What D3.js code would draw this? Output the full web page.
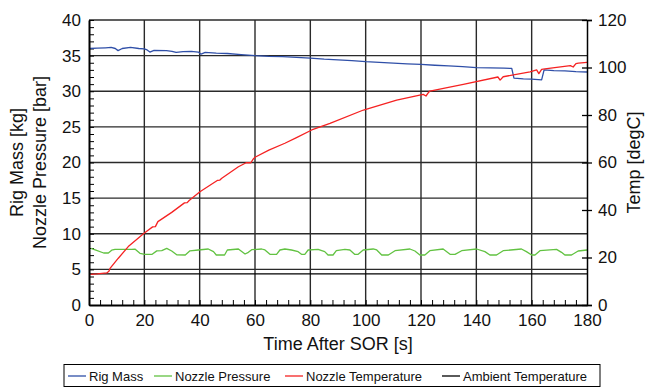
<!DOCTYPE html>
<html>
<head>
<meta charset="utf-8">
<script src="https://cdn.jsdelivr.net/npm/d3@7"></script>
<style>
  body { margin: 0; background: #fff; }
  svg text { font-family: "Liberation Sans", Arial, Helvetica, sans-serif; fill: #111; }
</style>
</head>
<body>
<div id="chart"></div>
<script>
// Values
const massTime = [0, 3, 6, 8, 9.5, 10.5, 12, 15, 18, 20, 21, 22, 23.5, 28, 30, 31.5, 34, 37, 39.5, 40.5, 42, 46, 50, 55, 60, 65, 70, 75, 80, 85, 90, 95, 100, 105, 110, 115, 120, 125, 130, 135, 140, 145, 150, 152.8, 153.6, 157, 160, 163.6, 164.5, 168, 172, 176, 180];
const massValue = [36.0, 36.05, 36.1, 36.15, 36.0, 35.7, 36.0, 36.15, 36.0, 35.95, 35.8, 35.5, 35.75, 35.7, 35.6, 35.45, 35.55, 35.6, 35.5, 35.2, 35.45, 35.35, 35.3, 35.15, 35.0, 34.9, 34.85, 34.75, 34.65, 34.5, 34.4, 34.3, 34.15, 34.05, 33.95, 33.85, 33.78, 33.65, 33.55, 33.45, 33.32, 33.28, 33.25, 33.2, 31.85, 31.75, 31.7, 31.6, 33.0, 32.9, 32.85, 32.75, 32.7];

const pressureTime = [0.7, 2.5, 5.3, 7, 8.2, 9.4, 15.4, 16.6, 18.4, 20.2, 22.7, 24.5, 26.3, 28.1, 29.9, 31.7, 34.8, 36.5, 39.5, 43.1, 45, 46, 49, 50, 54, 56.4, 57.6, 58.8, 62.4, 63.6, 65.4, 67.8, 69, 70.8, 73.2, 75.6, 76.8, 78, 79.2, 82.8, 85.2, 86.4, 88.2, 89.4, 92.5, 94.3, 96, 97.3, 99.1, 102.7, 104, 105.8, 108.2, 110.6, 116, 117.8, 119.6, 121.4, 123.2, 128, 130.5, 132.3, 134.7, 140.1, 143.1, 144.9, 147.3, 149.7, 156.3, 158.1, 160, 161.2, 163, 169, 170.8, 172, 174.4, 176.8, 180];
const pressureValue = [7.95, 7.7, 7.3, 7.3, 7.7, 7.8, 7.8, 7.85, 7.25, 7.1, 7.1, 7.6, 7.62, 7.95, 7.58, 7.05, 7.02, 7.6, 7.72, 7.86, 7.49, 7.02, 7.02, 7.72, 7.86, 7.16, 7.39, 7.76, 7.86, 7.72, 7.11, 7.11, 7.72, 7.86, 7.72, 7.49, 7.11, 7.11, 7.72, 7.81, 7.49, 7.02, 7.02, 7.62, 7.81, 7.72, 7.11, 7.11, 7.72, 7.86, 7.72, 7.02, 7.02, 7.62, 7.86, 7.58, 7.02, 7.02, 7.62, 7.86, 7.11, 7.11, 7.62, 7.86, 7.49, 7.02, 7.02, 7.62, 7.86, 7.49, 7.02, 7.02, 7.62, 7.81, 7.39, 7.02, 7.02, 7.58, 7.72];

const nozzleTempTime = [0.5, 3, 6.4, 7.2, 7.6, 10.6, 14.2, 19.9, 23, 24, 24.9, 29.9, 34.5, 35.5, 36.2, 40.1, 46.5, 47.3, 48, 54, 56.8, 58.5, 59.4, 60, 65, 70.8, 75, 80.5, 87.1, 99.2, 111.2, 120.8, 121.8, 122.8, 123.2, 135.3, 147.8, 148.6, 149.7, 159.4, 161.8, 162.6, 163.6, 164.8, 174, 175, 176, 176.9, 180];
const nozzleTempValue = [12.9, 13.1, 13.5, 14.2, 15.4, 19.7, 24.6, 30.2, 32.9, 33.0, 35.1, 39.0, 43.0, 43.1, 44.0, 47.7, 52.5, 52.6, 53.4, 58.2, 59.9, 59.9, 61.5, 62.2, 65.2, 68.1, 70.5, 73.7, 76.5, 82.1, 86.3, 88.7, 88.0, 89.6, 90.1, 92.9, 96.0, 94.7, 96.1, 98.2, 99.0, 97.4, 99.2, 99.4, 100.8, 100.2, 101.6, 101.8, 102.2];

const ambientTime = [0, 180];
const ambientValue = [13.1, 13.1];

const xTicks = [0, 20, 40, 60, 80, 100, 120, 140, 160, 180];
const leftTicks = [0, 5, 10, 15, 20, 25, 30, 35, 40];
const rightTicks = [0, 20, 40, 60, 80, 100, 120];

const legendNames = ['Rig Mass', 'Nozzle Pressure', 'Nozzle Temperature', 'Ambient Temperature'];
const colors = ['#2f4fa8', '#62c242', '#f52222', '#000000'];

const width = 652, height = 388;
const plotLeft = 89, plotRight = 587, plotTop = 20, plotBottom = 305;

const svg = d3.select('#chart').append('svg')
    .attr('width', width)
    .attr('height', height);

const x = d3.scaleLinear().domain([0, 180]).range([plotLeft, plotRight]);
const yL = d3.scaleLinear().domain([0, 40]).range([plotBottom, plotTop]);
const yR = d3.scaleLinear().domain([0, 120]).range([plotBottom, plotTop]);

// Grid
svg.append('g')
    .selectAll('line')
    .data(xTicks.slice(1, -1))
    .enter().append('line')
    .attr('x1', d => x(d)).attr('x2', d => x(d))
    .attr('y1', plotTop).attr('y2', plotBottom)
    .attr('stroke', '#2a2a2a').attr('stroke-width', 1.4);

svg.append('g')
    .selectAll('line')
    .data(leftTicks.slice(1))
    .enter().append('line')
    .attr('x1', plotLeft).attr('x2', plotRight)
    .attr('y1', d => yL(d)).attr('y2', d => yL(d))
    .attr('stroke', '#2a2a2a').attr('stroke-width', 1.4);

// Minor ticks, pointing into the plot
svg.append('g')
    .attr('transform', `translate(${plotLeft},0)`)
    .call(d3.axisRight(yL).tickValues(d3.range(0, 41, 1)).tickSize(5).tickFormat(''))
    .call(g => g.select('.domain').remove());

svg.append('g')
    .attr('transform', `translate(0,${plotBottom})`)
    .call(d3.axisTop(x).tickValues(d3.range(0, 181, 4)).tickSize(5).tickFormat(''))
    .call(g => g.select('.domain').remove());

// Lines
const series = [
    {t: massTime, v: massValue, y: yL},
    {t: pressureTime, v: pressureValue, y: yL},
    {t: nozzleTempTime, v: nozzleTempValue, y: yR},
    {t: ambientTime, v: ambientValue, y: yR}
];

const drawOrder = [3, 1, 0, 2];
drawOrder.forEach(i => {
    const s = series[i];
    const pts = s.t.map((t, j) => [t, s.v[j]]);
    svg.append('path')
        .datum(pts)
        .attr('fill', 'none')
        .attr('stroke', colors[i])
        .attr('stroke-width', 1.3)
        .attr('stroke-linejoin', 'round')
        .attr('d', d3.line().x(d => x(d[0])).y(d => s.y(d[1])));
});

// Axes with labels
const leftAxis = svg.append('g')
    .attr('transform', `translate(${plotLeft},0)`)
    .call(d3.axisLeft(yL).tickValues(leftTicks).tickSize(0).tickPadding(8));
leftAxis.select('.domain').attr('stroke', '#000').attr('stroke-width', 2);

const bottomAxis = svg.append('g')
    .attr('transform', `translate(0,${plotBottom})`)
    .call(d3.axisBottom(x).tickValues(xTicks).tickSize(0).tickPadding(9));
bottomAxis.select('.domain').attr('stroke', '#000').attr('stroke-width', 2);

const rightAxis = svg.append('g')
    .attr('transform', `translate(${plotRight},0)`)
    .call(d3.axisRight(yR).tickValues(rightTicks).tickSize(5).tickPadding(6));
rightAxis.select('.domain').attr('stroke', '#000').attr('stroke-width', 1.5);
rightAxis.selectAll('.tick line').attr('x1', -5).attr('stroke-width', 1.3);

svg.selectAll('.tick text')
    .style('font-size', '17px')
    .style('font-family', '"Liberation Sans", Arial, sans-serif')
    .attr('fill', '#111');

// Axis titles
svg.append('text')
    .attr('x', (plotLeft + plotRight) / 2)
    .attr('y', 350)
    .attr('text-anchor', 'middle')
    .style('font-size', '18px')
    .text('Time After SOR [s]');

const midY = (plotTop + plotBottom) / 2;
['Rig Mass [kg]', 'Nozzle Pressure [bar]'].forEach((label, i) => {
    svg.append('text')
        .attr('transform', `translate(${22.5 + i * 23.5},${midY}) rotate(-90)`)
        .attr('text-anchor', 'middle')
        .style('font-size', '18px')
        .text(label);
});

svg.append('text')
    .attr('transform', `translate(640,${midY}) rotate(-90)`)
    .attr('text-anchor', 'middle')
    .style('font-size', '18px')
    .text('Temp [degC]');

// Legend
const legend = svg.append('g');
legend.append('rect')
    .attr('x', 64).attr('y', 364.5)
    .attr('width', 536).attr('height', 22)
    .attr('fill', '#fff')
    .attr('stroke', '#000')
    .attr('stroke-width', 1);

const legendX = [68, 154, 285, 442];
legendNames.forEach((name, i) => {
    legend.append('line')
        .attr('x1', legendX[i]).attr('x2', legendX[i] + 18)
        .attr('y1', 376).attr('y2', 376)
        .attr('stroke', colors[i])
        .attr('stroke-width', 1.3);
    legend.append('text')
        .attr('x', legendX[i] + 21)
        .attr('y', 380.5)
        .style('font-size', '13px')
        .text(name);
});
</script>
</body>
</html>
